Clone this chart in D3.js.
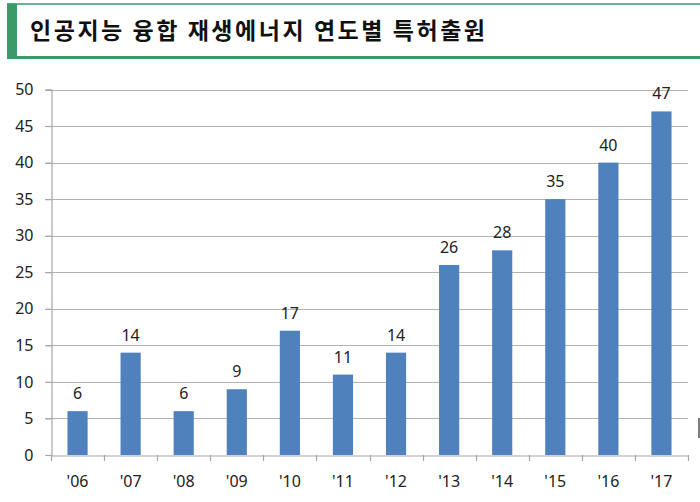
<!DOCTYPE html>
<html><head><meta charset="utf-8">
<script src="https://cdn.jsdelivr.net/npm/d3@7"></script>
<style>
html,body{margin:0;padding:0;background:#fff;}
svg{display:block;}
</style></head>
<body><svg id="c" width="700" height="502"></svg>
<script>
const title = "인공지능 융합 재생에너지 연도별 특허출원";
const categories = ["'06","'07","'08","'09","'10","'11","'12","'13","'14","'15","'16","'17"];
const values = [6,14,6,9,17,11,14,26,28,35,40,47];
const yTicks = [0,5,10,15,20,25,30,35,40,45,50];

(function(){
const svg = d3.select("#c");
const green = "#3a9a68";
const numFont = "'Noto Sans', 'DejaVu Sans', sans-serif";

// Title box
svg.append("line").attr("x1",7).attr("x2",700).attr("y1",4).attr("y2",4)
  .attr("stroke",green).attr("stroke-width",1.5);
svg.append("line").attr("x1",7).attr("x2",700).attr("y1",57.5).attr("y2",57.5)
  .attr("stroke",green).attr("stroke-width",3);
svg.append("rect").attr("x",7).attr("y",3.5).attr("width",10).attr("height",55.5).attr("fill",green);
svg.append("text").attr("x",30).attr("y",39)
  .attr("font-family","'Noto Sans CJK KR', sans-serif").attr("font-weight",700)
  .attr("font-size",23).attr("fill","#111")
  .attr("textLength",455).attr("lengthAdjust","spacing").text(title);

// Chart
const pL = 51, pR = 688, pT = 89.5, pB = 455;
const x = d3.scaleBand().domain(categories).range([pL,pR]).paddingInner(0.62).paddingOuter(0.31);
const xc = d3.scaleBand().domain(categories).range([pL,pR]);
const y = d3.scaleLinear().domain([0,50]).range([pB,pT]);

const g = svg.append("g");
g.selectAll(".grid").data(yTicks.filter(d=>d>0)).join("line")
  .attr("x1",pL-6).attr("x2",pR)
  .attr("y1",d=>Math.round(y(d))+0.5).attr("y2",d=>Math.round(y(d))+0.5)
  .attr("stroke","#b3b3b3").attr("stroke-width",1.2);

g.selectAll(".bar").data(values).join("rect")
  .attr("x",(d,i)=>x(categories[i])).attr("width",x.bandwidth())
  .attr("y",d=>y(d)).attr("height",d=>y(0)-y(d)).attr("fill","#4f81bd");

const yAxis = d3.axisLeft(y).tickValues(yTicks).tickSize(6).tickPadding(12);
const ya = svg.append("g").attr("transform",`translate(${pL+0.5},0)`).call(yAxis);
ya.select(".domain").attr("stroke","#a6a6a6").attr("stroke-width",1.2);
ya.selectAll(".tick line").attr("stroke","#a6a6a6").attr("stroke-width",1.2);
ya.selectAll("text").attr("font-family",numFont).attr("font-size",16).attr("fill","#222");

const xAxis = d3.axisBottom(xc).tickSize(0).tickPadding(20);
const xa = svg.append("g").attr("transform",`translate(0,${Math.round(pB)+0.5})`).call(xAxis);
xa.select(".domain").attr("stroke","#a6a6a6").attr("stroke-width",1.2);
xa.selectAll("text").attr("font-family",numFont).attr("font-size",16).attr("fill","#222");
const bounds = categories.map(c=>xc(c)).concat([pR]);
svg.append("g").selectAll("line").data(bounds).join("line")
  .attr("x1",d=>Math.round(d)+0.5).attr("x2",d=>Math.round(d)+0.5)
  .attr("y1",pB).attr("y2",pB+6).attr("stroke","#a6a6a6").attr("stroke-width",1.2);

g.selectAll(".lbl").data(values).join("text")
  .attr("x",(d,i)=>x(categories[i])+x.bandwidth()/2).attr("y",d=>y(d)-12)
  .attr("text-anchor","middle").attr("font-family",numFont).attr("font-size",16).attr("fill","#222")
  .text(d=>d);

svg.append("line").attr("x1",699).attr("x2",699).attr("y1",418).attr("y2",438)
  .attr("stroke","#555").attr("stroke-width",1.5);
})();
</script></body></html>
